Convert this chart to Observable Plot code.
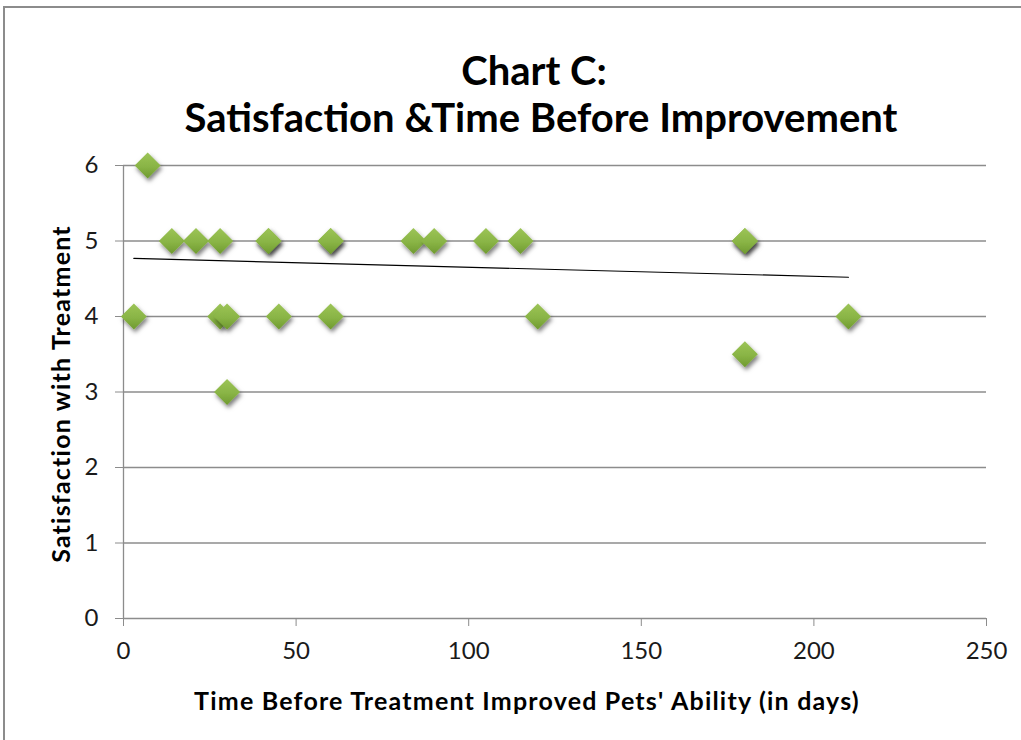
<!DOCTYPE html>
<html>
<head>
<meta charset="utf-8">
<script src="https://cdn.jsdelivr.net/npm/d3@7"></script>
<script src="https://cdn.jsdelivr.net/npm/@observablehq/plot@0.6"></script>
<style>
  html, body { margin: 0; padding: 0; background: #fff; overflow: hidden; width: 1021px; height: 740px; }
  body { font-family: Lato, "Open Sans", sans-serif; position: relative; }
  #frame { position: absolute; left: 3px; top: 6px; width: 1100px; height: 800px; border: 2px solid #8c8c8c; box-sizing: border-box; }
  #title { position: absolute; left: 41px; width: 1000px; top: 47px; text-align: center; font-weight: bold; font-size: 40px; line-height: 47px; color: #000; }
  #chart { position: absolute; left: 0; top: 140px; }
  .axtitle { letter-spacing: 1.2px; }
</style>
</head>
<body>
<div id="frame"></div>
<div id="title"><span style="margin-left:-14px">Chart C:</span><br>Satisfaction &amp;Time Before Improvement</div>
<div id="chart"></div>
<script>
// Data
const timeDays     = [3, 7, 14, 21, 28, 42, 42, 60, 60, 28, 30, 45, 60, 30, 84, 90, 105, 115, 120, 180, 180, 210, 180];
const satisfaction = [4, 6,  5,  5,  5,  5,  5,  5,  5,  4,  4,  4,  4,  3,  5,  5,   5,   5,   4,   5,   5,   4, 3.5];
const trendX = [3, 210];
const trendY = [4.77, 4.52];
const xTicks = [0, 50, 100, 150, 200, 250];
const yTicks = [0, 1, 2, 3, 4, 5, 6];
const xTitle = "Time Before Treatment Improved Pets' Ability (in days)";
const yTitle = "Satisfaction with Treatment";

const points = timeDays.map((t, i) => ({t, s: satisfaction[i]}));
const trend = trendX.map((t, i) => ({t, s: trendY[i]}));

const defs = () => {
  const ns = "http://www.w3.org/2000/svg";
  const d = document.createElementNS(ns, "defs");
  d.innerHTML = `
    <linearGradient id="gg" x1="0" y1="0" x2="0" y2="1">
      <stop offset="0" stop-color="#9cc457"/>
      <stop offset="0.55" stop-color="#89b445"/>
      <stop offset="1" stop-color="#6f9a30"/>
    </linearGradient>
    <filter id="sh" x="-50%" y="-50%" width="200%" height="200%">
      <feDropShadow dx="1.5" dy="3" stdDeviation="2" flood-color="#000" flood-opacity="0.5"/>
    </filter>`;
  return d;
};

const font = "Lato, 'Open Sans', sans-serif";

const chart = Plot.plot({
  width: 1021,
  height: 600,
  marginLeft: 123,
  marginRight: 35,
  marginTop: 25,
  marginBottom: 122,
  style: {fontFamily: font, fontSize: "24px", color: "#1a1a1a", background: "transparent", overflow: "visible"},
  x: {domain: [0, 250]},
  y: {domain: [0, 6]},
  marks: [
    defs,
    Plot.ruleY(yTicks, {stroke: "#8c8c8c", strokeWidth: 1.3}),
    Plot.ruleX([0], {stroke: "#8c8c8c", strokeWidth: 1.3}),
    Plot.axisX({ticks: xTicks, tickFormat: d => String(d), tickSize: 8, tickPadding: 15, stroke: "#8c8c8c", fill: "#1a1a1a", fontSize: 24, label: null}),
    Plot.axisY({ticks: yTicks, tickFormat: d => String(d), tickSize: 8, tickPadding: 17, stroke: "#8c8c8c", fill: "#1a1a1a", fontSize: 24, label: null}),
    Plot.line(trend, {x: "t", y: "s", stroke: "#000", strokeWidth: 1.2}),
    Plot.dot(points, {x: "t", y: "s", symbol: "diamond2", r: 11.7, fill: "url(#gg)", stroke: "none"}),
    Plot.text([xTitle], {frameAnchor: "bottom", dx: -28, dy: 91, fontWeight: "bold", fontSize: 25, fill: "#000"}),
    Plot.text([yTitle], {frameAnchor: "left", textAnchor: "middle", dx: -62, dy: 2, rotate: -90, fontWeight: "bold", fontSize: 25, fill: "#000"})
  ]
});
document.getElementById("chart").appendChild(chart);
const sel = d3.select(chart);
sel.selectAll("path").filter(function() { return this.getAttribute("fill") === "url(#gg)" || (this.parentNode && this.parentNode.getAttribute("fill") === "url(#gg)"); }).attr("filter", "url(#sh)");
sel.selectAll("text").filter(function() { return this.textContent === xTitle || this.textContent === yTitle; }).attr("class", "axtitle").style("letter-spacing", "1.2px");
</script>
</body>
</html>
